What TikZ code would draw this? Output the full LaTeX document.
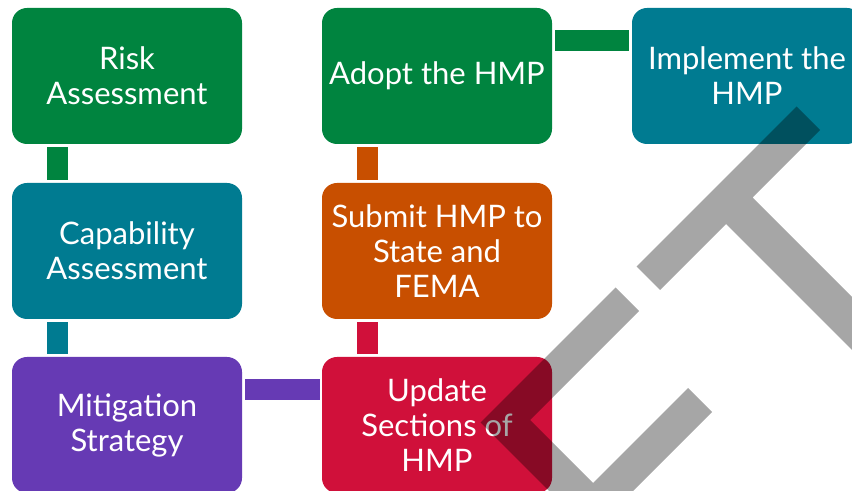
\documentclass[tikz,border=0pt]{standalone}
\usepackage{fontspec}
\setmainfont{Lato}
\definecolor{riskgreen}{HTML}{00843F}
\definecolor{capteal}{HTML}{007B91}
\definecolor{mitpurple}{HTML}{663AB4}
\definecolor{updred}{HTML}{D0103A}
\definecolor{suborange}{HTML}{C84F00}
\tikzset{
  phase/.style={fill=#1, text=white, rounded corners=7.5pt, minimum width=115pt, minimum height=68pt,
    inner sep=0pt, align=center, font=\fontsize{15.5}{17.5}\selectfont},
  link/.style={draw=#1, line width=10.5pt},
}
\begin{document}
\begin{tikzpicture}[x=0.5pt,y=-0.5pt]
\clip (0,0) rectangle (852,491);
\node[phase=riskgreen] (risk) at (127,76) {Risk\\Assessment};
\node[phase=capteal] (capab) at (127,251) {Capability\\Assessment};
\node[phase=mitpurple] (mitig) at (127,425) {Mitigation\\Strategy};
\node[phase=updred] (update) at (437,425) {Update\\Sections of\\HMP};
\node[phase=suborange] (submit) at (437,251) {Submit HMP to\\State and\\FEMA};
\node[phase=riskgreen] (adopt) at (437,76) {Adopt the HMP};
\node[phase=capteal] (implem) at (747,76) {Implement the\\HMP};
\draw[link=riskgreen] ([shift={(45.5,3)}]risk.south west) -- ([shift={(45.5,-3)}]capab.north west);
\draw[link=capteal] ([shift={(45.5,3)}]capab.south west) -- ([shift={(45.5,-3)}]mitig.north west);
\draw[link=mitpurple] ([shift={(3,33)}]mitig.north east) -- ([shift={(-2,33)}]update.north west);
\draw[link=updred] ([shift={(45.5,-3)}]update.north west) -- ([shift={(45.5,3)}]submit.south west);
\draw[link=suborange] ([shift={(45.5,-3)}]submit.north west) -- ([shift={(45.5,3)}]adopt.south west);
\draw[link=riskgreen] ([shift={(3,33)}]adopt.north east) -- ([shift={(-3,33)}]implem.north west);
\fill[black, opacity=0.35] (636.5,266.5) -- (796.5,106.5) -- (820,130) -- (752.5,197.5) -- (1027.5,472.5)
  -- (1001,499) -- (726,224) -- (660,290) -- cycle;
\fill[black, opacity=0.35] (615.5,287.5) -- (480.5,422.5) -- (591,533) -- (712,412) -- (688,388)
  -- (593,483) -- (530,420) -- (639,311) -- cycle;
\end{tikzpicture}
\end{document}
